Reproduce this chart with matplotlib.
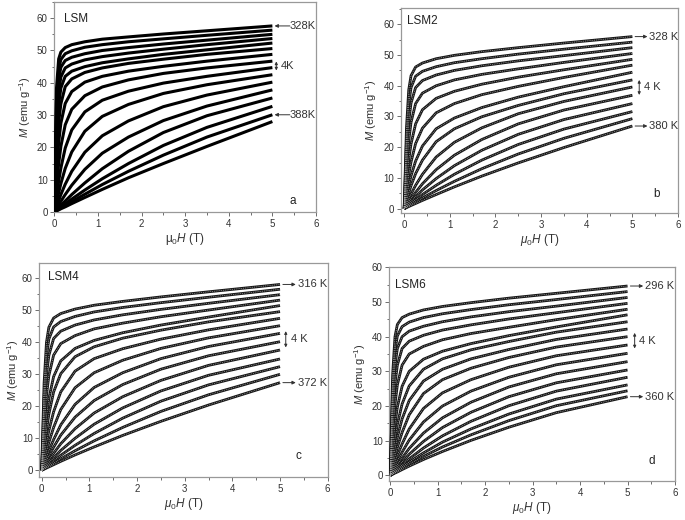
import matplotlib
matplotlib.use("Agg")
import matplotlib.pyplot as plt
from matplotlib.ticker import MultipleLocator

plt.rcParams['font.family'] = ['Liberation Sans', 'DejaVu Sans']
plt.rcParams['mathtext.fontset'] = 'custom'
plt.rcParams['mathtext.rm'] = 'Liberation Sans'
plt.rcParams['mathtext.it'] = 'Liberation Sans:italic'

# magnetic field grid (T)
H = [0, 0.05, 0.1, 0.15, 0.25, 0.4, 0.7, 1.1, 1.7, 2.5, 3.5, 5]

# LSM: 328 K ... 388 K (4 K steps)
M_lsm = [
    [0, 38.3, 47.4, 49.5, 50.9, 51.8, 52.7, 53.5, 54.2, 55.1, 56.1, 57.6],
    [0, 34.0, 44.3, 47.2, 49.0, 49.9, 51.0, 51.8, 52.7, 53.6, 54.7, 56.3],
    [0, 29.8, 41.3, 44.8, 46.9, 47.9, 49.0, 50.0, 50.9, 52.0, 53.2, 55.0],
    [0, 25.4, 37.4, 41.8, 44.6, 45.8, 47.1, 48.1, 49.2, 50.4, 51.8, 53.7],
    [0, 21.3, 33.3, 38.4, 42.0, 43.6, 45.0, 46.2, 47.4, 48.8, 50.2, 52.3],
    [0, 16.7, 27.8, 33.5, 38.8, 41.2, 43.2, 44.6, 46.0, 47.3, 48.8, 50.6],
    [0, 12.5, 21.6, 27.5, 33.6, 37.3, 40.2, 42.0, 43.6, 45.1, 46.7, 48.8],
    [0, 8.0, 15.0, 20.3, 27.0, 31.8, 36.0, 38.7, 40.9, 42.9, 44.6, 46.7],
    [0, 5.0, 9.6, 13.6, 19.8, 25.4, 31.0, 34.6, 37.4, 39.9, 42.0, 44.7],
    [0, 3.0, 6.0, 8.8, 13.5, 18.6, 25.0, 29.6, 33.3, 36.7, 39.4, 42.5],
    [0, 1.8, 3.6, 5.4, 8.6, 12.6, 18.5, 23.6, 28.2, 32.6, 36.2, 40.2],
    [0, 1.1, 2.2, 3.3, 5.4, 8.3, 13.2, 18.2, 23.2, 28.3, 32.8, 37.8],
    [0, 0.7, 1.4, 2.1, 3.4, 5.4, 9.0, 13.4, 18.8, 24.6, 29.8, 35.3],
    [0, 0.5, 1.0, 1.5, 2.5, 4.0, 6.8, 10.3, 15.0, 20.6, 26.2, 32.7],
    [0, 0.4, 0.8, 1.2, 2.0, 3.2, 5.5, 8.5, 12.6, 17.6, 23.2, 30.1],
    [0, 0.33, 0.65, 1.0, 1.6, 2.6, 4.5, 7.0, 10.6, 15.0, 20.3, 28.0],
]

# LSM2: 328 K ... 380 K
M_lsm2 = [
    [0, 26.3, 38.7, 43.3, 46.1, 47.4, 48.8, 49.9, 51.1, 52.4, 53.9, 56.0],
    [0, 21.8, 34.1, 39.4, 43.1, 44.7, 46.2, 47.5, 48.8, 50.3, 51.9, 54.2],
    [0, 17.2, 28.4, 34.4, 39.4, 41.7, 43.5, 45.0, 46.5, 48.1, 49.8, 52.4],
    [0, 12.8, 22.1, 28.1, 34.2, 37.6, 40.0, 41.9, 43.7, 45.5, 47.6, 50.5],
    [0, 8.8, 15.9, 21.1, 27.6, 32.2, 35.9, 38.2, 40.5, 42.8, 45.2, 48.6],
    [0, 5.9, 11.1, 15.2, 21.2, 26.2, 31.2, 34.2, 37.1, 39.8, 42.7, 46.7],
    [0, 4.0, 7.7, 10.7, 15.5, 20.4, 26.0, 29.5, 32.9, 36.3, 39.7, 44.4],
    [0, 2.6, 5.1, 7.5, 11.4, 15.8, 21.8, 26.0, 29.9, 33.6, 37.4, 41.9],
    [0, 1.6, 3.2, 4.8, 7.6, 11.2, 16.8, 21.6, 26.3, 30.9, 34.9, 39.6],
    [0, 1.1, 2.2, 3.3, 5.3, 8.1, 12.7, 17.4, 22.5, 27.6, 32.1, 36.9],
    [0, 0.8, 1.6, 2.4, 3.9, 6.1, 9.8, 14.0, 19.0, 24.2, 29.0, 34.2],
    [0, 0.6, 1.2, 1.8, 2.9, 4.6, 7.6, 11.2, 15.8, 20.9, 25.9, 31.6],
    [0, 0.45, 0.9, 1.35, 2.2, 3.5, 5.9, 8.9, 13.0, 17.8, 22.9, 29.3],
    [0, 0.35, 0.7, 1.05, 1.7, 2.7, 4.6, 7.1, 10.6, 14.9, 19.9, 26.9],
]

# LSM4: 316 K ... 372 K
M_lsm4 = [
    [0, 27.2, 40.0, 44.7, 47.6, 49.0, 50.4, 51.6, 52.8, 54.2, 55.8, 58.1],
    [0, 22.7, 35.5, 41.0, 44.8, 46.5, 48.1, 49.5, 50.9, 52.4, 54.1, 56.6],
    [0, 17.9, 29.7, 35.9, 41.2, 43.5, 45.4, 47.0, 48.6, 50.3, 52.2, 54.9],
    [0, 13.4, 23.3, 29.6, 36.0, 39.6, 42.1, 44.2, 46.0, 48.0, 50.1, 53.2],
    [0, 9.3, 16.9, 22.4, 29.3, 34.2, 38.1, 40.6, 43.0, 45.4, 47.9, 51.5],
    [0, 6.5, 12.5, 17.5, 24.5, 30.2, 35.5, 38.6, 41.3, 43.8, 46.4, 49.6],
    [0, 4.4, 8.6, 12.4, 18.3, 24.5, 31.0, 34.9, 38.0, 41.0, 43.9, 47.5],
    [0, 3.0, 5.9, 8.7, 13.4, 19.0, 25.8, 30.5, 34.4, 38.1, 41.4, 45.2],
    [0, 2.1, 4.1, 6.1, 9.6, 14.2, 20.6, 25.9, 30.5, 34.9, 38.7, 42.8],
    [0, 1.5, 3.0, 4.5, 7.2, 11.0, 16.6, 21.8, 26.8, 31.6, 35.8, 40.2],
    [0, 1.1, 2.2, 3.3, 5.3, 8.3, 13.0, 17.9, 23.0, 28.1, 32.8, 37.6],
    [0, 0.8, 1.6, 2.4, 3.9, 6.2, 10.0, 14.4, 19.5, 24.8, 29.7, 34.8],
    [0, 0.6, 1.2, 1.8, 2.9, 4.7, 7.8, 11.5, 16.3, 21.6, 26.7, 32.4],
    [0, 0.45, 0.9, 1.35, 2.2, 3.6, 6.1, 9.2, 13.4, 18.4, 23.6, 30.0],
    [0, 0.35, 0.7, 1.05, 1.75, 2.8, 4.8, 7.3, 10.9, 15.3, 20.4, 27.4],
]

# LSM6: 296 K ... 360 K
M_lsm6 = [
    [0, 28.9, 40.0, 43.5, 45.5, 46.5, 47.7, 48.7, 49.8, 51.1, 52.5, 54.6],
    [0, 24.5, 36.0, 40.2, 42.9, 44.2, 45.5, 46.6, 47.8, 49.2, 50.7, 53.0],
    [0, 20.2, 31.7, 36.6, 40.0, 41.6, 43.0, 44.3, 45.7, 47.2, 48.8, 51.3],
    [0, 15.9, 26.4, 31.8, 36.6, 38.7, 40.4, 41.9, 43.4, 45.1, 46.9, 49.6],
    [0, 11.8, 20.5, 26.1, 31.8, 35.0, 37.2, 39.1, 40.9, 42.7, 44.9, 47.9],
    [0, 8.1, 14.8, 19.7, 25.7, 30.0, 33.5, 35.8, 38.0, 40.3, 42.8, 46.3],
    [0, 5.6, 10.6, 14.7, 20.6, 25.8, 30.6, 33.6, 36.2, 38.6, 41.3, 44.3],
    [0, 3.9, 7.6, 11.0, 16.3, 21.6, 27.2, 30.6, 33.6, 36.3, 39.2, 42.2],
    [0, 2.8, 5.5, 8.1, 12.4, 17.5, 23.6, 27.6, 30.9, 34.0, 37.0, 40.0],
    [0, 2.0, 3.9, 5.8, 9.1, 13.4, 19.3, 23.8, 27.6, 31.2, 34.5, 37.6],
    [0, 1.4, 2.8, 4.2, 6.7, 10.2, 15.4, 20.0, 24.3, 28.3, 31.9, 35.2],
    [0, 1.05, 2.1, 3.1, 5.0, 7.8, 12.2, 16.6, 21.1, 25.5, 29.3, 32.8],
    [0, 0.8, 1.6, 2.4, 3.9, 6.1, 9.8, 13.8, 18.2, 22.7, 26.7, 30.4],
    [0, 0.62, 1.25, 1.85, 3.0, 4.8, 7.9, 11.4, 15.6, 20.1, 24.3, 28.3],
    [0, 0.5, 1.0, 1.5, 2.5, 3.9, 6.5, 9.6, 13.4, 17.7, 22.0, 26.1],
    [0, 0.42, 0.84, 1.25, 2.1, 3.3, 5.5, 8.2, 11.7, 15.8, 20.1, 24.4],
    [0, 0.35, 0.7, 1.0, 1.7, 2.7, 4.6, 6.9, 10.1, 13.9, 18.1, 22.7],
]

names = ["LSM", "LSM2", "LSM4", "LSM6"]
letters = ["a", "b", "c", "d"]
top_labels = ["328K", "328 K", "316 K", "296 K"]
bot_labels = ["388K", "380 K", "372 K", "360 K"]
step_labels = ["4K", "4 K", "4 K", "4 K"]

fig = plt.figure(figsize=(6.85, 5.2), dpi=100)

rects = [
    [0.0793, 0.5923, 0.3820, 0.4038],
    [0.5854, 0.5904, 0.4044, 0.3942],
    [0.0574, 0.0827, 0.4210, 0.4115],
    [0.5683, 0.0750, 0.4171, 0.4110],
]
xlims = [(0, 6), (-0.07, 6), (-0.05, 6), (-0.02, 6)]
ylims = [(0, 65), (-1.4, 65.3), (-2.1, 64.8), (-1.6, 60)]
name_pos = [(0.037, 0.92), (0.02, 0.938), (0.031, 0.933), (0.02, 0.917)]
letter_pos = [(0.913, 0.054), (0.923, 0.093), (0.90, 0.098), (0.92, 0.094)]
ylabel_pad = [3, 3, 0.5, 3]

# annotation geometry (data coordinates)
bot_idx = [14, 13, 14, 16]
step_span = [(46.6, 43.8), (41.9, 37.0), (43.5, 38.4), (41.1, 36.6)]
step_x = [5.09, 5.15, 5.12, 5.15]

datasets = [M_lsm, M_lsm2, M_lsm4, M_lsm6]
for k in range(4):
    ax = fig.add_axes(rects[k])
    data = datasets[k]
    for curve in data:
        if k == 0:
            ax.plot(H, curve, color='black', lw=2.2, solid_capstyle='butt',
                    solid_joinstyle='round', zorder=3)
        else:
            ax.plot(H, curve, color='#151515', lw=2.0, solid_capstyle='butt',
                    solid_joinstyle='round', zorder=3)
            ax.plot(H, curve, color='#a5a5a5', lw=0.6, ls=(0, (1, 1.2)), zorder=4)
    ax.set_xlim(*xlims[k])
    ax.set_ylim(*ylims[k])
    ax.xaxis.set_major_locator(MultipleLocator(1))
    ax.xaxis.set_minor_locator(MultipleLocator(0.5))
    ax.yaxis.set_major_locator(MultipleLocator(10))
    ax.yaxis.set_minor_locator(MultipleLocator(5))
    ax.tick_params(which='both', direction='out', colors='#555555', labelsize=7,
                   labelcolor='#333333', width=0.6, pad=1.8)
    ax.tick_params(which='major', length=3)
    ax.tick_params(which='minor', length=1.8)
    for sp in ax.spines.values():
        sp.set_color('#999999')
        sp.set_linewidth(0.9)
    ax.set_xlabel(r'$\mu_0H$ (T)' if k else r'$\mathrm{\mu_0}H$ (T)', fontsize=8.5,
                  color='#333333', labelpad=2)
    ax.set_ylabel(r'$M$ (emu g$^{-1}$)', fontsize=8, color='#333333',
                  labelpad=ylabel_pad[k])
    ax.text(name_pos[k][0], name_pos[k][1], names[k], transform=ax.transAxes,
            fontsize=8.5, color='#222222', va='center', ha='left')
    ax.text(letter_pos[k][0], letter_pos[k][1], letters[k], transform=ax.transAxes,
            fontsize=8.5, color='#222222', va='center', ha='center')

    ytop = data[0][-1]
    ybot = data[bot_idx[k]][-1]
    if k == 0:
        # arrows pointing towards the curves
        for yv, lab in [(ytop, top_labels[k]), (ybot, bot_labels[k])]:
            ax.annotate('', xy=(5.05, yv), xytext=(5.4, yv),
                        arrowprops=dict(arrowstyle='-|>', color='#333333', lw=0.7,
                                        mutation_scale=5, shrinkA=0, shrinkB=0))
            ax.text(5.4, yv, lab, fontsize=8, color='#333333', va='center', ha='left')
    else:
        for yv, lab in [(ytop, top_labels[k]), (ybot, bot_labels[k])]:
            ax.annotate('', xy=(5.33, yv), xytext=(5.06, yv),
                        arrowprops=dict(arrowstyle='-|>', color='#333333', lw=0.7,
                                        mutation_scale=5, shrinkA=0, shrinkB=0))
            ax.text(5.37, yv, lab, fontsize=8, color='#333333', va='center', ha='left')
    y1, y2 = step_span[k]
    ax.annotate('', xy=(step_x[k], y1), xytext=(step_x[k], y2),
                arrowprops=dict(arrowstyle='<|-|>', color='#333333', lw=0.7,
                                mutation_scale=4, shrinkA=0, shrinkB=0))
    ax.text(step_x[k] + 0.1, (y1 + y2) / 2, step_labels[k], fontsize=8,
            color='#333333', va='center', ha='left')

fig.savefig('out.png', dpi=100)
